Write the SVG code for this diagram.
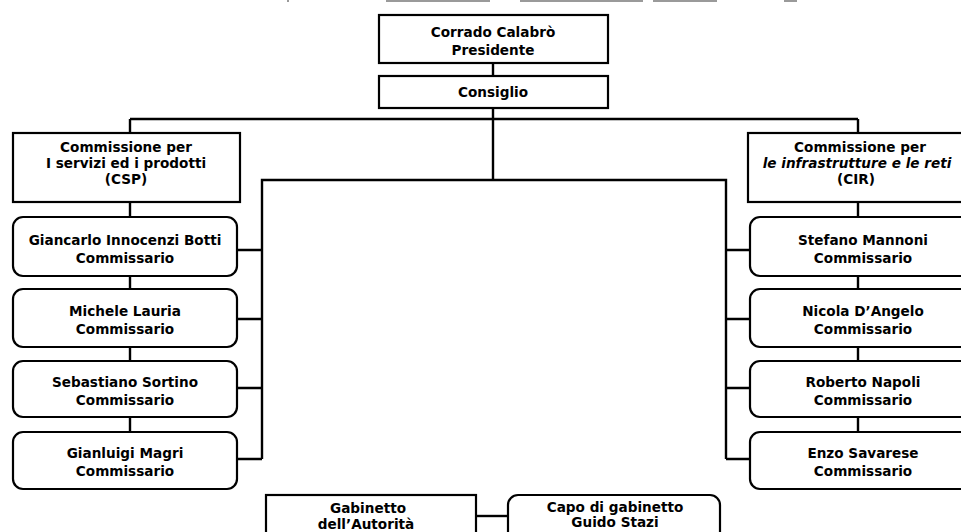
<svg xmlns="http://www.w3.org/2000/svg" width="961" height="532" viewBox="0 0 961 532">
<style>
.box{fill:#fff;stroke:#000;stroke-width:2.2}
.ln{fill:none;stroke:#000;stroke-width:2.4}
text{font-family:"DejaVu Sans","Liberation Sans",sans-serif;font-weight:bold;font-size:13.6px;fill:#000;text-anchor:middle}
.it{font-style:italic}
.art{fill:#9a9a9a}
</style>
<rect width="961" height="532" fill="#fff"/>
<g id="artifacts">
<rect class="art" x="287" y="0" width="2" height="2"/>
<rect class="art" x="386" y="0" width="104" height="2"/>
<rect class="art" x="520" y="0" width="123" height="2"/>
<rect class="art" x="653" y="0" width="64" height="2"/>
<rect class="art" x="784" y="0" width="13" height="2"/>
</g>
<g id="connectors">
<path class="ln" d="M493 63V76M493 108V180M130 119H858M130 119V133M858 119V133"/>
<path class="ln" d="M262 459V180H726V459"/>
<path class="ln" d="M130 202V217M130 276V289M130 347V361M130 417V432"/>
<path class="ln" d="M858 202V217M858 276V289M858 347V361M858 417V432"/>
<path class="ln" d="M237 250H262M237 319H262M237 388H262M237 459H262"/>
<path class="ln" d="M726 250H750M726 319H750M726 388H750M726 459H750"/>
<path class="ln" d="M476 516H508"/>
</g>
<g id="presidente">
<rect class="box" x="379" y="15" width="229" height="48"/>
<text x="493" y="37">Corrado Calabrò</text>
<text x="493" y="55">Presidente</text>
</g>
<g id="consiglio">
<rect class="box" x="379" y="76" width="229" height="32"/>
<text x="493" y="97">Consiglio</text>
</g>
<g id="csp">
<rect class="box" x="13" y="133" width="227" height="69"/>
<text x="126" y="152">Commissione per</text>
<text x="126" y="168">I servizi ed i prodotti</text>
<text x="126" y="184">(CSP)</text>
</g>
<g id="cir">
<rect class="box" x="748" y="133" width="222" height="69"/>
<text x="860" y="152">Commissione per</text>
<text class="it" x="857" y="168">le infrastrutture e le reti</text>
<text x="856" y="184">(CIR)</text>
</g>
<g id="botti">
<rect class="box" x="13" y="217" width="224" height="59" rx="10"/>
<text x="125" y="245">Giancarlo Innocenzi Botti</text>
<text x="125" y="263">Commissario</text>
</g>
<g id="lauria">
<rect class="box" x="13" y="289" width="224" height="58" rx="10"/>
<text x="125" y="316">Michele Lauria</text>
<text x="125" y="334">Commissario</text>
</g>
<g id="sortino">
<rect class="box" x="13" y="361" width="224" height="56" rx="10"/>
<text x="125" y="387">Sebastiano Sortino</text>
<text x="125" y="405">Commissario</text>
</g>
<g id="magri">
<rect class="box" x="13" y="432" width="224" height="57" rx="10"/>
<text x="125" y="458">Gianluigi Magri</text>
<text x="125" y="476">Commissario</text>
</g>
<g id="mannoni">
<rect class="box" x="750" y="217" width="225" height="59" rx="10"/>
<text x="863" y="245">Stefano Mannoni</text>
<text x="863" y="263">Commissario</text>
</g>
<g id="dangelo">
<rect class="box" x="750" y="289" width="225" height="58" rx="10"/>
<text x="863" y="316">Nicola D’Angelo</text>
<text x="863" y="334">Commissario</text>
</g>
<g id="napoli">
<rect class="box" x="750" y="361" width="225" height="56" rx="10"/>
<text x="863" y="387">Roberto Napoli</text>
<text x="863" y="405">Commissario</text>
</g>
<g id="savarese">
<rect class="box" x="750" y="432" width="225" height="57" rx="10"/>
<text x="863" y="458">Enzo Savarese</text>
<text x="863" y="476">Commissario</text>
</g>
<g id="gabinetto">
<rect class="box" x="266" y="495" width="210" height="50"/>
<text x="368" y="513">Gabinetto</text>
<text x="366" y="529">dell’Autorità</text>
</g>
<g id="capo">
<rect class="box" x="508" y="495" width="212" height="50" rx="10"/>
<text x="615" y="512">Capo di gabinetto</text>
<text x="615" y="527">Guido Stazi</text>
</g>
</svg>
